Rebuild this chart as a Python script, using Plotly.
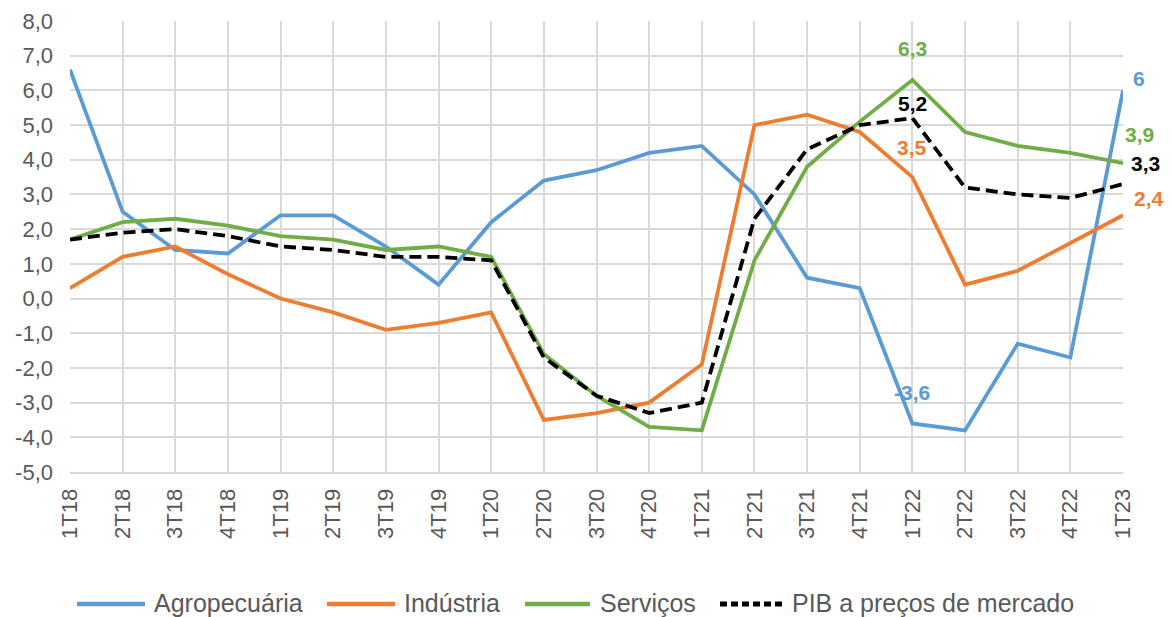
import plotly.graph_objects as go

quarters = ["1T18","2T18","3T18","4T18","1T19","2T19","3T19","4T19","1T20","2T20",
            "3T20","4T20","1T21","2T21","3T21","4T21","1T22","2T22","3T22","4T22","1T23"]
agro = [6.6, 2.5, 1.4, 1.3, 2.4, 2.4, 1.5, 0.4, 2.2, 3.4, 3.7, 4.2, 4.4, 3.0, 0.6, 0.3, -3.6, -3.8, -1.3, -1.7, 6.0]
industria = [0.3, 1.2, 1.5, 0.7, 0.0, -0.4, -0.9, -0.7, -0.4, -3.5, -3.3, -3.0, -1.9, 5.0, 5.3, 4.8, 3.5, 0.4, 0.8, 1.6, 2.4]
servicos = [1.7, 2.2, 2.3, 2.1, 1.8, 1.7, 1.4, 1.5, 1.2, -1.6, -2.8, -3.7, -3.8, 1.1, 3.8, 5.1, 6.3, 4.8, 4.4, 4.2, 3.9]
pib = [1.7, 1.9, 2.0, 1.8, 1.5, 1.4, 1.2, 1.2, 1.1, -1.7, -2.8, -3.3, -3.0, 2.3, 4.3, 5.0, 5.2, 3.2, 3.0, 2.9, 3.3]
yticks = list(range(-5, 9))
ytick_text = [f"{v:.1f}".replace(".", ",") for v in yticks]
series_names = ["Agropecuária", "Indústria", "Serviços", "PIB a preços de mercado"]
series_values = [agro, industria, servicos, pib]

colors = ["#5B9BD5", "#ED7D31", "#70AD47", "#000000"]
dashes = ["solid", "solid", "solid", "12px,6px"]

FONT = "Liberation Sans, Arial, sans-serif"
W, H = 1165, 609
ML, MR, MT, MB = 62, 50, 13, 145
PW, PH = W - ML - MR, H - MT - MB

def px_x(x):
    return (x - ML) / PW

def px_y(y):
    return (H - MB - y) / PH

fig = go.Figure()
for name, vals, color, dash in zip(series_names, series_values, colors, dashes):
    fig.add_trace(go.Scatter(x=quarters, y=vals, name=name, mode="lines",
                             line=dict(color=color, width=3.8, dash=dash),
                             showlegend=False))

def fmt(v):
    s = f"{v:.1f}".replace(".", ",")
    if s.endswith(",0"):
        s = s[:-2]
    return s

# data labels at 1T22 (above the points)
i22 = quarters.index("1T22")
shift22 = [31, 30, 31, 15]
for vals, color, dy in zip(series_values, colors, shift22):
    fig.add_annotation(x=quarters[i22], y=vals[i22], text=f"<b>{fmt(vals[i22])}</b>",
                       showarrow=False, yshift=dy,
                       font=dict(color=color, size=21, family=FONT))
# data labels at 1T23 (to the right)
ilast = len(quarters) - 1
offsets = [(16, 12), (26, 17), (16, 29), (22, 21)]
for vals, color, (dx, dy) in zip(series_values, colors, offsets):
    fig.add_annotation(x=quarters[ilast], y=vals[ilast], text=f"<b>{fmt(vals[ilast])}</b>",
                       showarrow=False, xshift=dx, yshift=dy,
                       font=dict(color=color, size=21, family=FONT))

# legend (drawn in the bottom margin)
leg_y = 596
leg_lines = [(69, 137), (319, 387), (517, 582), (712, 777)]
leg_text_x = [144, 394, 590, 782]
leg_dash = ["solid", "solid", "solid", "7px,4px"]
for name, color, (x0, x1), tx, dsh in zip(series_names, colors, leg_lines, leg_text_x, leg_dash):
    fig.add_shape(type="line", xref="paper", yref="paper",
                  x0=px_x(x0), x1=px_x(x1), y0=px_y(leg_y), y1=px_y(leg_y),
                  line=dict(color=color, width=4.5 if dsh == "solid" else 5, dash=dsh))
    fig.add_annotation(xref="paper", yref="paper", x=px_x(tx), y=px_y(leg_y - 1),
                       text=name, showarrow=False, xanchor="left", yanchor="middle",
                       font=dict(size=25, color="#595959", family=FONT))

fig.update_layout(
    width=W, height=H,
    margin=dict(l=ML, r=MR, t=MT, b=MB),
    paper_bgcolor="white", plot_bgcolor="white",
    font=dict(family=FONT, size=22, color="#595959"),
    showlegend=False,
)
fig.update_xaxes(type="category", range=[0, len(quarters) - 1], tickangle=-90,
                 showgrid=True, gridcolor="#D9D9D9", gridwidth=2,
                 showline=True, linecolor="#D9D9D9", linewidth=2, mirror=False,
                 ticks="", ticklabelstandoff=6, automargin=False,
                 tickfont=dict(size=22, color="#595959"))
fig.update_yaxes(range=[-5, 8], tickvals=yticks, ticktext=ytick_text,
                 showgrid=True, gridcolor="#D9D9D9", gridwidth=2, zeroline=False,
                 showline=False, ticks="", ticklabelstandoff=16, automargin=False,
                 tickfont=dict(size=22, color="#595959"))

fig.write_html("out.html")
